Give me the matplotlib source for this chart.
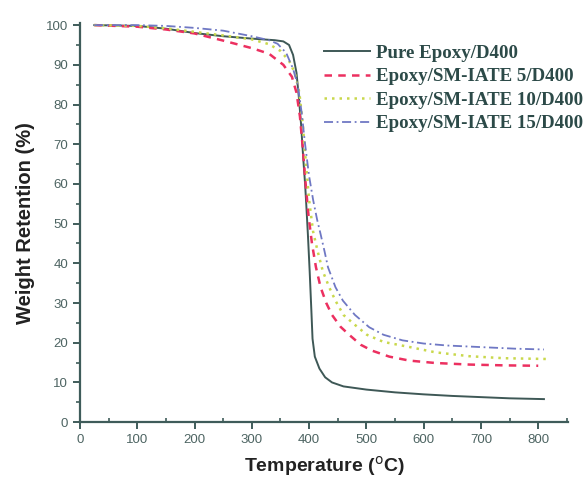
import numpy as np
import matplotlib.pyplot as plt
from matplotlib.ticker import MultipleLocator

# TGA curves: weight retention vs temperature
temp_pure = [25, 100, 150, 200, 250, 300, 340, 355, 365, 372, 378, 382, 386, 390, 393,
             395, 398, 401, 404, 406, 410, 418, 428, 440, 460, 500, 550, 600, 650, 700,
             750, 810]
wt_pure = [100, 99.8, 99.1, 98.0, 97.2, 96.6, 96.2, 95.9, 95.0, 92.5, 88, 82, 75, 66, 60,
           55, 47, 38, 28, 21, 16.5, 13.5, 11.3, 10.0, 9.0, 8.2, 7.5, 7.0, 6.6, 6.3,
           6.0, 5.8]

temp_5 = [25, 100, 150, 200, 250, 300, 330, 355, 370, 378, 384, 389, 394, 399, 405,
          412, 420, 430, 440, 455, 470, 490, 510, 540, 575, 620, 680, 740, 800]
wt_5 = [100, 99.6, 98.9, 97.9, 96.1, 94.2, 92.8, 90.0, 87, 83, 77, 69, 60, 52, 45,
        39, 34, 30, 27, 24, 22, 19.5, 18, 16.5, 15.5, 14.9, 14.5, 14.3, 14.2]

temp_10 = [25, 100, 150, 200, 250, 300, 330, 350, 365, 375, 383, 389, 394, 400, 407,
           415, 424, 435, 446, 460, 480, 501, 530, 576, 620, 680, 740, 816]
wt_10 = [100, 99.8, 99.2, 98.3, 97.4, 96.4, 95.2, 93.5, 91, 88, 83, 75, 66, 56, 48,
         43, 38, 34, 30.6, 27, 24.5, 22, 20.2, 18.9, 17.6, 16.6, 16.1, 15.9]

temp_15 = [25, 100, 150, 200, 250, 300, 330, 345, 360, 372, 380, 387, 393, 400, 407,
           414, 420, 427, 433, 446, 459, 480, 505, 530, 563, 600, 641, 700, 760, 810]
wt_15 = [100, 100, 99.8, 99.3, 98.6, 97.2, 96.2, 95.3, 93, 89, 85, 78, 70, 62, 56,
         51, 47.4, 43, 39, 34, 30.6, 27, 23.9, 22, 20.6, 19.8, 19.3, 18.9, 18.5, 18.3]

labels = ['Pure Epoxy/D400', 'Epoxy/SM-IATE 5/D400',
          'Epoxy/SM-IATE 10/D400', 'Epoxy/SM-IATE 15/D400']

axis_c = '#3f5c5a'

fig = plt.figure(figsize=(5.88, 4.92), dpi=100)
ax = fig.add_axes([0.136, 0.142, 0.830, 0.811])

ax.plot(temp_pure, wt_pure, color='#3e5856', lw=1.4, label=labels[0])
ax.plot(temp_5, wt_5, color='#ec3060', lw=1.8, ls=(0, (3, 2.5)), label=labels[1])
ax.plot(temp_10, wt_10, color='#c9d84c', lw=1.8, ls=(0, (1, 2)), label=labels[2])
ax.plot(temp_15, wt_15, color='#6f78c4', lw=1.3, ls=(0, (5, 2, 1, 2)), label=labels[3])

ax.set_xlim(0, 852)
ax.set_ylim(0, 100.5)
ax.xaxis.set_minor_locator(MultipleLocator(50))
ax.yaxis.set_major_locator(MultipleLocator(10))
ax.yaxis.set_minor_locator(MultipleLocator(5))
ax.set_xticks(range(0, 900, 100))
ax.set_xticklabels([str(v) for v in range(0, 900, 100)])

for s in ['top', 'right']:
    ax.spines[s].set_visible(False)
for s in ['left', 'bottom']:
    ax.spines[s].set_color(axis_c)
    ax.spines[s].set_linewidth(1.6)

ax.tick_params(which='major', length=5, width=1.4, color=axis_c,
               labelsize=9.5, labelcolor='#4d6462')
ax.tick_params(which='minor', length=3, width=1.2, color=axis_c)
ax.tick_params(axis='x', which='minor', direction='in')

ax.set_xlabel('Temperature ($^{\\mathrm{o}}$C)', fontsize=14, fontweight='bold',
              family='Liberation Sans', color='#222222', labelpad=6)
ax.set_ylabel('Weight Retention (%)', fontsize=14.5, fontweight='bold',
              family='Liberation Sans', color='#222222', labelpad=8)
for t in ax.get_xticklabels() + ax.get_yticklabels():
    t.set_family('Liberation Sans')

leg = ax.legend(loc='upper left', bbox_to_anchor=(0.48, 0.97), frameon=False,
                borderpad=0, handlelength=2.45, handletextpad=0.3, labelspacing=0.33,
                prop={'family': 'Liberation Serif', 'weight': 'bold', 'size': 13.6})
for t in leg.get_texts():
    t.set_color('#2c4a48')

fig.savefig('out.png', dpi=100)
